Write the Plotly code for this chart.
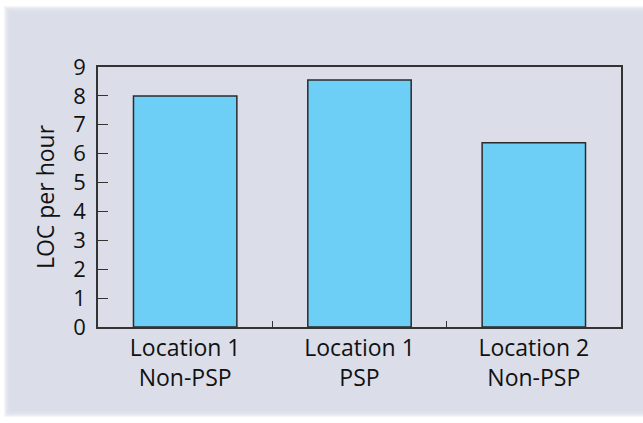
import plotly.graph_objects as go

categories = ["Location 1<br>Non-PSP", "Location 1<br>PSP", "Location 2<br>Non-PSP"]
values = [8.0, 8.55, 6.38]
y_ticks = [0, 1, 2, 3, 4, 5, 6, 7, 8, 9]

W, H = 643, 423
ML, MR, MT, MB = 98, 22, 67, 96
PW, PH = W - ML - MR, H - MT - MB

def px(x):
    return (x - ML) / PW

def py(y):
    return (H - MB - y) / PH

fig = go.Figure()
fig.add_trace(go.Bar(
    x=categories, y=values,
    marker=dict(color="#6dcff6", line=dict(color="#2b2b2b", width=1.5)),
    width=0.593,
))

shapes = []
# soft-edged textured card background
for k in range(7):
    shapes.append(dict(
        type="rect", xref="paper", yref="paper", layer="below",
        x0=px(4 + k), x1=px(W + 5), y0=py(417 - k), y1=py(6 + k),
        fillcolor="#d6dbe7", opacity=0.28, line=dict(width=0),
    ))

font = "Open Sans, Noto Sans, sans-serif"
fig.update_layout(
    width=W, height=H,
    margin=dict(l=ML, r=MR, t=MT, b=MB),
    paper_bgcolor="white", plot_bgcolor="white",
    shapes=shapes,
    showlegend=False,
    font=dict(family=font, size=23, color="#111"),
    xaxis=dict(
        showline=True, linecolor="#333", linewidth=1.5, mirror=True,
        ticks="inside", tickson="boundaries", ticklen=6, tickcolor="#333", tickwidth=1.2,
        showgrid=False, tickfont=dict(size=23),
    ),
    yaxis=dict(
        range=[0, 9], tickvals=y_ticks, ticktext=[str(t) for t in y_ticks],
        showline=True, linecolor="#333", linewidth=1.5, mirror=True,
        ticks="inside", ticklen=10, tickcolor="#333", tickwidth=1.2,
        showgrid=False, zeroline=False, tickfont=dict(size=22),
        ticklabelstandoff=6,
        title=dict(text="LOC per hour", font=dict(size=23), standoff=12),
    ),
)

fig.write_html("out.html")
